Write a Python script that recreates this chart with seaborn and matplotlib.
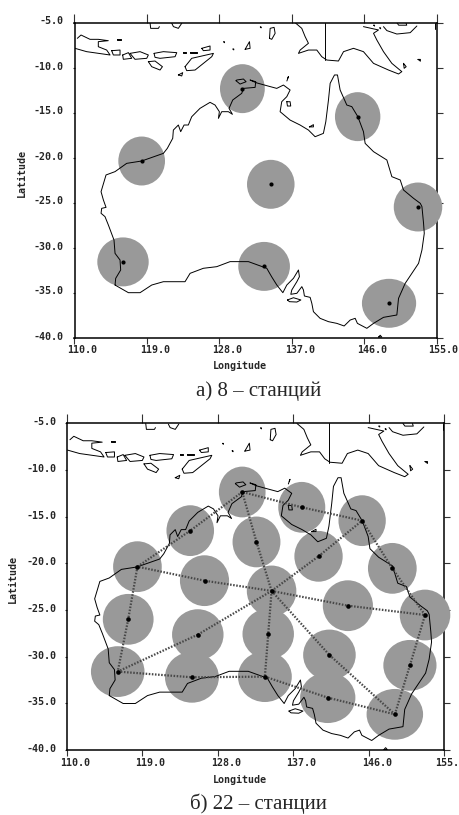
import numpy as np
import pandas as pd
import matplotlib
matplotlib.use("Agg")
import matplotlib.pyplot as plt
import seaborn as sns
from matplotlib.patches import Ellipse
from matplotlib.transforms import ScaledTranslation

# station positions
lon_8 = [130.87, 145.2, 118.35, 134.4, 152.7, 116.03, 133.57, 149.1]
lat_8 = [-12.35, -15.46, -20.39, -22.98, -25.5, -31.6, -32.1, -36.2]

lon_22 = [130.9, 138.0, 145.2, 124.7, 132.6, 140.0, 118.4, 148.8, 126.4, 134.4, 143.5,
          152.7, 117.3, 125.6, 134.0, 141.3, 150.9, 116.05, 124.9, 133.6, 141.1, 149.1]
lat_22 = [-12.36, -14.0, -15.43, -16.5, -17.71, -19.25, -20.36, -20.54, -21.86, -22.96, -24.54,
          -25.54, -26.0, -27.64, -27.57, -29.82, -30.93, -31.6, -32.21, -32.14, -34.39, -36.18]

# dotted links between stations of the 22 map (station indexes)
link_from = [9, 4, 9, 5, 9, 8, 9, 10, 9, 13, 9, 14, 9, 15, 0, 3, 6, 12, 17, 18, 19, 20, 21, 16, 11, 7, 2, 1]
link_to = [4, 0, 5, 2, 8, 6, 10, 11, 13, 17, 14, 19, 15, 21, 3, 6, 12, 17, 18, 19, 20, 21, 16, 11, 7, 2, 1, 0]

# Australia mainland, clockwise from the south west corner
coast_lon = [115.04, 115.12, 115.74, 115.66, 115.04, 114.91, 114.21, 113.79, 113.3, 113.38, 113.92, 113.59,
             113.3, 113.67, 113.92, 115.04, 116.49, 118.35, 121.05, 121.54, 122.21, 122.29, 122.91, 123.2,
             123.62, 124.15, 124.57, 125.6, 126.85, 127.47, 128.01, 127.89, 128.3, 129.13, 129.63, 129.21,
             129.67, 130.79, 131.0, 132.45, 132.53, 131.82, 132.57, 133.9, 135.14, 135.97, 136.8, 136.39,
             135.76, 135.56, 136.8, 138.04, 139.08, 139.91, 140.94, 141.24, 141.57, 141.78, 142.32, 142.69,
             143.02, 143.85, 144.47, 145.22, 145.92, 146.13, 147.17, 148.83, 149.45, 150.49, 150.9, 152.15,
             152.98, 153.19, 153.39, 153.48, 153.19, 152.77, 151.11, 150.28, 150.07, 148.41, 147.17, 146.34,
             145.17, 144.89, 144.27, 143.52, 142.61, 141.57, 140.53, 139.7, 139.5, 139.29, 138.58, 138.46,
             138.26, 137.64, 136.89, 137.01, 137.64, 137.96, 137.84, 137.22, 136.39, 135.9, 135.15, 134.5,
             133.9, 131.62, 129.34, 127.68, 126.02, 124.37, 123.74, 121.05, 119.6, 118.15, 116.7, 115.04]
coast_lat = [-34.17, -33.43, -32.5, -31.39, -30.65, -29.17, -27.5, -26.57, -26.2, -25.65, -25.54, -24.72,
             -23.8, -22.69, -21.94, -21.57, -20.65, -20.39, -19.54, -18.98, -17.87, -16.95, -16.39, -17.13,
             -16.39, -16.39, -15.47, -14.54, -13.87, -14.17, -14.91, -15.65, -14.91, -14.91, -15.2, -14.54,
             -13.61, -12.87, -12.32, -12.21, -11.58, -11.39, -11.69, -12.02, -12.32, -11.95, -12.5, -13.24,
             -13.8, -14.91, -15.84, -16.39, -16.95, -17.69, -17.32, -16.02, -13.61, -11.76, -10.83, -10.83,
             -12.5, -14.17, -14.35, -15.46, -17.13, -18.43, -19.35, -20.28, -22.13, -22.5, -23.61, -24.54,
             -25.09, -25.46, -27.31, -28.43, -30.28, -31.76, -33.98, -35.65, -37.5, -37.76, -38.43, -38.98,
             -38.43, -37.87, -38.06, -38.72, -38.43, -38.24, -37.87, -37.13, -36.2, -35.54, -35.39, -34.72,
             -34.35, -35.09, -35.2, -34.72, -33.8, -33.24, -32.5, -33.42, -34.17, -35.02, -34.17, -33.24,
             -32.31, -31.57, -31.57, -32.13, -32.31, -32.87, -33.8, -33.8, -34.17, -35.02, -35.02, -34.17]

# New Guinea south coast with the border line
guinea_lon = [137.43, 138.25, 138.67, 139.08, 138.05, 137.84, 139.08, 140.12, 140.74, 141.36, 142.81, 143.44,
              144.68, 145.92, 147.17, 149.03, 150.28, 150.69, 149.45, 148.41, 147.58, 147.17, 147.79, 145.92]
guinea_lat = [-5.02, -5.65, -6.57, -7.31, -8.06, -8.43, -8.06, -8.06, -8.8, -9.17, -9.28, -8.24,
              -7.87, -8.24, -9.54, -10.28, -10.72, -10.46, -9.54, -8.24, -6.94, -6.2, -5.83, -5.46]
border_lon = [141.2, 141.2]
border_lat = [-5.0, -9.2]

# Java, open at the left edge
java_lon = [110.06, 111.51, 114.42, 114.0, 112.96, 112.96, 114.2, 112.96, 111.93, 110.81, 110.35]
java_lat = [-7.87, -8.24, -8.61, -8.06, -7.69, -7.13, -7.02, -6.87, -6.87, -6.39, -6.76]

# other islands and bits of coast, each one a lon list and a lat list
island_lon = [
    [114.62, 115.66, 115.66, 114.83, 114.62],
    [115.99, 116.7, 117.11, 116.07, 115.99],
    [116.9, 118.15, 119.18, 118.98, 117.52, 116.9],
    [119.89, 121.05, 122.71, 122.5, 120.63, 120.01, 119.89],
    [119.18, 120.01, 120.93, 120.63, 119.6, 119.18],
    [123.74, 124.57, 127.27, 127.06, 124.99, 123.95, 123.74],
    [125.82, 126.85, 126.85, 126.02, 125.82],
    [123.45, 123.87, 123.87, 123.45, 123.45],
    [124.37, 125.2, 125.2, 124.37, 124.37],
    [122.91, 123.45, 123.33, 122.91],
    [131.21, 131.75, 131.83, 131.21],
    [134.24, 134.32, 134.81, 134.94, 134.52, 134.24],
    [119.39, 119.47, 120.43, 120.55],
    [122.09, 122.3, 122.91, 123.33],
    [148.41, 148.83, 150.07, 151.73, 152.56],
    [150.07, 150.3, 151.3, 151.2],
    [154.84, 154.84],
    [150.9, 151.23, 150.98, 150.9],
    [130.08, 130.58, 131.33, 131.0, 130.17, 130.08],
    [136.39, 136.8, 136.88, 136.47, 136.39],
    [139.2, 139.7, 139.7, 139.2],
    [136.47, 137.22, 138.14, 137.64, 136.72, 136.47],
    [147.8, 148.0, 148.2, 147.8],
    [115.25, 115.75, 115.75, 115.25, 115.25],
    [128.55, 128.65, 128.65, 128.55],
    [129.7, 129.8, 129.8, 129.7],
    [133.1, 133.2, 133.2, 133.1],
    [147.2, 147.3, 147.3, 147.2],
    [147.95, 148.05, 148.05, 147.95],
    [152.7, 153.0, 153.0, 152.7],
    [136.4, 136.6, 136.5],
]
island_lat = [
    [-8.13, -8.06, -8.61, -8.61, -8.13],
    [-8.61, -8.35, -8.98, -9.09, -8.61],
    [-8.43, -8.24, -8.61, -8.98, -9.09, -8.43],
    [-8.43, -8.24, -8.35, -8.8, -8.98, -8.87, -8.43],
    [-9.35, -9.28, -9.91, -10.28, -9.91, -9.35],
    [-9.91, -8.98, -8.43, -8.8, -10.28, -10.35, -9.91],
    [-7.87, -7.61, -8.06, -8.13, -7.87],
    [-8.24, -8.24, -8.43, -8.43, -8.24],
    [-8.24, -8.24, -8.43, -8.43, -8.24],
    [-10.83, -10.57, -10.94, -10.83],
    [-7.98, -7.13, -7.87, -7.98],
    [-6.76, -5.65, -5.54, -6.2, -6.87, -6.76],
    [-5.02, -5.65, -5.65, -5.46],
    [-5.09, -5.46, -5.65, -5.09],
    [-5.46, -5.9, -6.28, -6.13, -5.39],
    [-5.02, -5.3, -5.3, -5.02],
    [-5.1, -5.76],
    [-9.54, -9.91, -10.09, -9.54],
    [-11.47, -11.84, -11.58, -11.28, -11.39, -11.47],
    [-13.8, -13.8, -14.28, -14.28, -13.8],
    [-16.6, -16.35, -16.6, -16.6],
    [-35.83, -35.58, -35.83, -36.06, -36.02, -35.83],
    [-39.95, -39.75, -39.95, -39.95],
    [-6.87, -6.87, -6.97, -6.97, -6.87],
    [-7.15, -7.15, -7.25, -7.15],
    [-7.95, -7.95, -8.05, -7.95],
    [-5.5, -5.5, -5.6, -5.5],
    [-5.3, -5.3, -5.4, -5.3],
    [-5.6, -5.6, -5.7, -5.6],
    [-9.1, -9.1, -9.3, -9.1],
    [-11.5, -11.0, -11.2],
]

x_ticks = [110, 119, 128, 137, 146, 155]
y_ticks = [-5, -10, -15, -20, -25, -30, -35, -40]
x_labels_8 = ["110.0", "119.0", "128.0", "137.0", "146.0", "155.0"]
x_labels_22 = ["110.0", "119.0", "128.0", "137.0", "146.0", "155."]
y_labels = ["-5.0", "-10.0", "-15.0", "-20.0", "-25.0", "-30.0", "-35.0", "-40.0"]
caption_8 = "а) 8 – станций"
caption_22 = "б) 22 – станции"

W, H = 459, 815
GREY = "#999999"
LAT_RADIUS = 2.72

sns.set_style("white")
plt.rcParams["font.family"] = ["DejaVu Sans Mono"]

# all the coast pieces in one long table, seaborn draws each unit as its own line
pieces = [(coast_lon, coast_lat), (guinea_lon, guinea_lat), (border_lon, border_lat), (java_lon, java_lat)]
pieces += list(zip(island_lon, island_lat))
coast = pd.concat([pd.DataFrame({"lon": a, "lat": b, "piece": i}) for i, (a, b) in enumerate(pieces)])

fig = plt.figure(figsize=(W / 100, H / 100), dpi=100, facecolor="white")


def make_panel(box, lons, lats, x_labels, label_shift):
    left, right, top, bottom = box
    ax = fig.add_axes([left / W, 1 - bottom / H, (right - left) / W, (bottom - top) / H])
    ax.set_xlim(110, 155)
    ax.set_ylim(-40, -5)

    # stations are circles on the globe so they get wider towards the south
    for x, y in zip(lons, lats):
        ax.add_patch(Ellipse((x, y), 2 * LAT_RADIUS / np.cos(np.radians(y)), 2 * LAT_RADIUS,
                             facecolor=GREY, edgecolor="none", clip_on=False, zorder=3))

    sns.lineplot(data=coast, x="lon", y="lat", units="piece", estimator=None, sort=False,
                 color="black", linewidth=0.7, legend=False, ax=ax, zorder=4)
    ax.set_xlabel("")
    ax.set_ylabel("")

    for side in ax.spines.values():
        side.set_linewidth(1.1)
        side.set_color("black")
        side.set_zorder(2)

    ax.set_xticks(x_ticks)
    ax.set_xticklabels(x_labels, fontsize=7.2, fontweight="bold")
    ax.set_yticks(y_ticks)
    ax.set_yticklabels(y_labels, fontsize=7.2, fontweight="bold")
    ax.tick_params(axis="both", direction="out", color="#333333", width=0.8,
                   bottom=True, top=True, left=True, right=True, pad=2)
    for t, shift in zip(ax.xaxis.get_major_ticks(), label_shift):
        t.tick1line.set_markersize(4.5)
        t.tick2line.set_markersize(6.5)
        t.label1.set_transform(t.label1.get_transform() + ScaledTranslation(shift / 100, 0, fig.dpi_scale_trans))
    for t in ax.yaxis.get_major_ticks():
        t.tick1line.set_markersize(1.5)
        t.tick2line.set_markersize(4)
        t.label1.set_transform(t.label1.get_transform() + ScaledTranslation(-3 / 100, 2 / 100, fig.dpi_scale_trans))
    return ax


ax_8 = make_panel((74.5, 436.5, 22.5, 337.5), lon_8, lat_8, x_labels_8, [8, 8, 8, 8, 8, 7])
sns.scatterplot(x=lon_8, y=lat_8, color="black", s=9, linewidth=0, ax=ax_8, zorder=6, clip_on=False)

ax_22 = make_panel((67, 444.3, 423.3, 750), lon_22, lat_22, x_labels_22, [8, 8, 8, 8, 8, 3])
links = pd.DataFrame({
    "lon": [lon_22[i] for pair in zip(link_from, link_to) for i in pair],
    "lat": [lat_22[i] for pair in zip(link_from, link_to) for i in pair],
    "link": [n for n in range(len(link_from)) for _ in (0, 1)],
})
sns.lineplot(data=links, x="lon", y="lat", units="link", estimator=None, sort=False, color="#484848",
             linewidth=1.6, linestyle=(0, (0.7, 0.7)), legend=False, ax=ax_22, zorder=5)
sns.scatterplot(x=lon_22, y=lat_22, color="black", s=11, linewidth=0, ax=ax_22, zorder=6, clip_on=False)
ax_22.set_xlabel("")
ax_22.set_ylabel("")


def px_text(x, y, s, **kw):
    fig.text(x / W, 1 - y / H, s, ha="center", va="center", **kw)


px_text(240, 366, "Longitude", fontsize=7.2, fontweight="bold")
px_text(22, 173, "Latitude", fontsize=7.2, fontweight="bold", rotation=90)
px_text(240, 780, "Longitude", fontsize=7.2, fontweight="bold")
px_text(13, 579, "Latitude", fontsize=7.2, fontweight="bold", rotation=90)
px_text(258.5, 391, caption_8, fontsize=15, family="Liberation Serif")
px_text(258.5, 804, caption_22, fontsize=15, family="Liberation Serif")

fig.savefig("out.png", dpi=100)
